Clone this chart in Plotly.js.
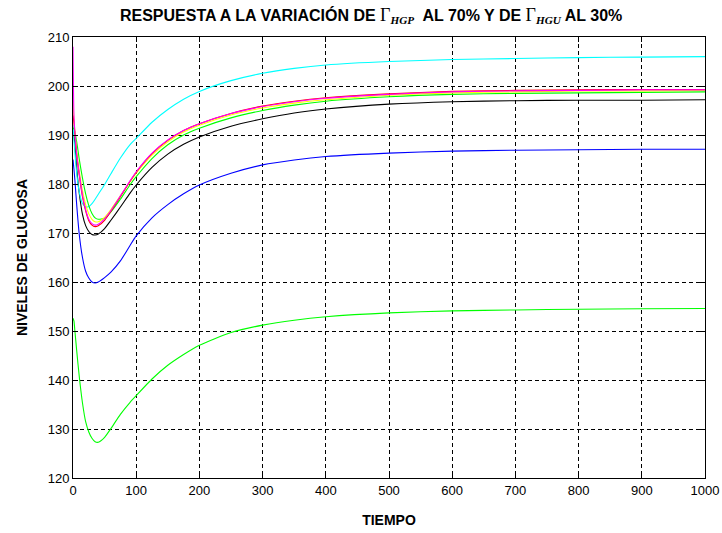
<!DOCTYPE html>
<html>
<head>
<meta charset="utf-8">
<script src="https://cdn.plot.ly/plotly-3.0.1.min.js"></script>
<style>html,body{margin:0;padding:0;background:#fff;}#chart{width:722px;height:533px;}</style>
</head>
<body>
<div id="chart"></div>
<script>
// Tick values
const xTicks = [0, 100, 200, 300, 400, 500, 600, 700, 800, 900, 1000];
const yTicks = [120, 130, 140, 150, 160, 170, 180, 190, 200, 210];

// Common time samples
const tiempo = [0, 1.5, 3, 6, 10, 15, 20, 25, 30, 35, 40, 50, 60, 75, 90, 100, 125, 150, 175, 200, 250, 300, 350, 400, 500, 600, 700, 800, 900, 1000];

// Glucose levels
const gMagenta = [208, 194, 190.5, 186, 182, 177.7, 174.8, 172.8, 171.9, 171.6, 171.8, 172.9, 174.6, 177.6, 180.6, 182.5, 186.3, 189.0, 190.9, 192.3, 194.4, 195.8, 196.8, 197.5, 198.3, 198.8, 199.0, 199.1, 199.2, 199.2];
const gRed     = [194, 192.5, 190.2, 185.7, 181.7, 177.4, 174.5, 172.5, 171.6, 171.3, 171.5, 172.6, 174.4, 177.4, 180.5, 182.4, 186.2, 188.9, 190.9, 192.3, 194.4, 195.9, 196.9, 197.6, 198.4, 198.9, 199.1, 199.2, 199.3, 199.3];
const gYellow  = [197, 193, 190.8, 186.5, 182.6, 178.6, 175.8, 173.9, 172.8, 172.3, 172.3, 173.2, 174.8, 177.6, 180.4, 182.2, 185.9, 188.6, 190.6, 192.0, 194.1, 195.5, 196.5, 197.2, 198.1, 198.6, 198.8, 199.0, 199.0, 199.1];
const gGreen   = [191.5, 191.2, 190.6, 188.5, 185, 181.2, 178, 175.6, 174, 173.1, 172.8, 173.0, 174.3, 176.9, 179.8, 181.5, 185.2, 188.0, 190.0, 191.4, 193.5, 195.0, 196.1, 196.9, 197.8, 198.3, 198.5, 198.6, 198.7, 198.8];
const gBlack   = [190, 189.7, 188, 183, 178, 173.8, 171.5, 170.3, 169.7, 169.6, 169.8, 170.9, 172.6, 175.3, 178.1, 179.8, 183.4, 186.1, 188.1, 189.6, 191.8, 193.3, 194.5, 195.3, 196.3, 196.8, 197.0, 197.1, 197.1, 197.2];
const gBlue    = [185, 183, 180.8, 175.5, 169.6, 165, 162.2, 160.8, 160.0, 159.8, 160.0, 160.9, 162.0, 164.3, 167.4, 169.4, 173.1, 175.8, 178.0, 179.8, 182.2, 183.9, 184.9, 185.6, 186.3, 186.7, 186.9, 187.0, 187.1, 187.1];
const gCyan    = [192, 189, 186.5, 182, 178.3, 176, 175.3, 175.4, 176, 176.9, 177.9, 179.9, 182.1, 185.3, 188.0, 189.3, 192.6, 195.2, 197.3, 198.9, 201.1, 202.6, 203.6, 204.3, 205.0, 205.4, 205.6, 205.8, 205.9, 206.0];
const gLow     = [152.6, 152, 150, 145.8, 140.6, 135.3, 131.5, 129.4, 128.1, 127.4, 127.3, 128.3, 130.1, 133.0, 135.4, 136.8, 140.2, 143.0, 145.2, 147.1, 149.7, 151.2, 152.2, 152.9, 153.7, 154.1, 154.3, 154.45, 154.55, 154.6];

function tr(y, color) {
  return {x: tiempo, y: y, type: 'scatter', mode: 'lines',
          line: {color: color, width: 1.1, shape: 'spline', smoothing: 0.6}, hoverinfo: 'none'};
}

const data = [
  tr(gLow, '#00FF00'),
  tr(gBlack, '#000000'),
  tr(gBlue, '#0000FF'),
  tr(gCyan, '#00FFFF'),
  tr(gGreen, '#00FF00'),
  tr(gYellow, '#FFFF00'),
  tr(gRed, '#FF0000'),
  tr(gMagenta, '#FF00FF')
];

const fam = 'Liberation Sans, Arial, sans-serif';
const tickFont = {family: fam, size: 13, color: '#000'};
const gam = '<span style="font-family:\'Liberation Serif\',serif;font-weight:normal;font-size:18px">Γ</span>';
function sub(s) {
  return '<sub><span style="font-family:\'Liberation Serif\',serif;font-style:italic;font-weight:bold">' + s + '</span></sub>';
}
const layout = {
  width: 722, height: 533,
  margin: {l: 73, r: 17, t: 37, b: 55},
  paper_bgcolor: '#fff', plot_bgcolor: '#fff',
  showlegend: false,
  title: {
    text: 'RESPUESTA A LA VARIACIÓN DE ' + gam + sub('HGP') + '  AL 70% Y DE ' + gam + sub('HGU') + ' AL 30%',
    font: {family: fam, size: 16, color: '#000', weight: 'bold'},
    x: 0.514, xref: 'container', xanchor: 'center', y: 0.972, yref: 'container', yanchor: 'middle'
  },
  xaxis: {
    range: [0, 1000], tickvals: xTicks, ticktext: xTicks.map(String),
    showline: true, linecolor: '#000', linewidth: 1, mirror: 'ticks',
    ticks: 'inside', ticklen: 5, tickcolor: '#000',
    showgrid: true, gridcolor: '#000', gridwidth: 1, griddash: '4px,3px',
    zeroline: false, tickfont: tickFont,
    title: {text: 'TIEMPO', font: {family: fam, size: 14, color: '#000', weight: 'bold'}, standoff: 18}
  },
  yaxis: {
    range: [120, 210], tickvals: yTicks, ticktext: yTicks.map(String),
    showline: true, linecolor: '#000', linewidth: 1, mirror: 'ticks',
    ticks: 'inside', ticklen: 5, tickcolor: '#000',
    showgrid: true, gridcolor: '#000', gridwidth: 1, griddash: '4px,3px',
    zeroline: false, tickfont: tickFont,
    title: {text: 'NIVELES DE GLUCOSA', font: {family: fam, size: 14, color: '#000', weight: 'bold'}, standoff: 16}
  }
};

Plotly.newPlot('chart', data, layout, {staticPlot: true, displayModeBar: false});
</script>
</body>
</html>
